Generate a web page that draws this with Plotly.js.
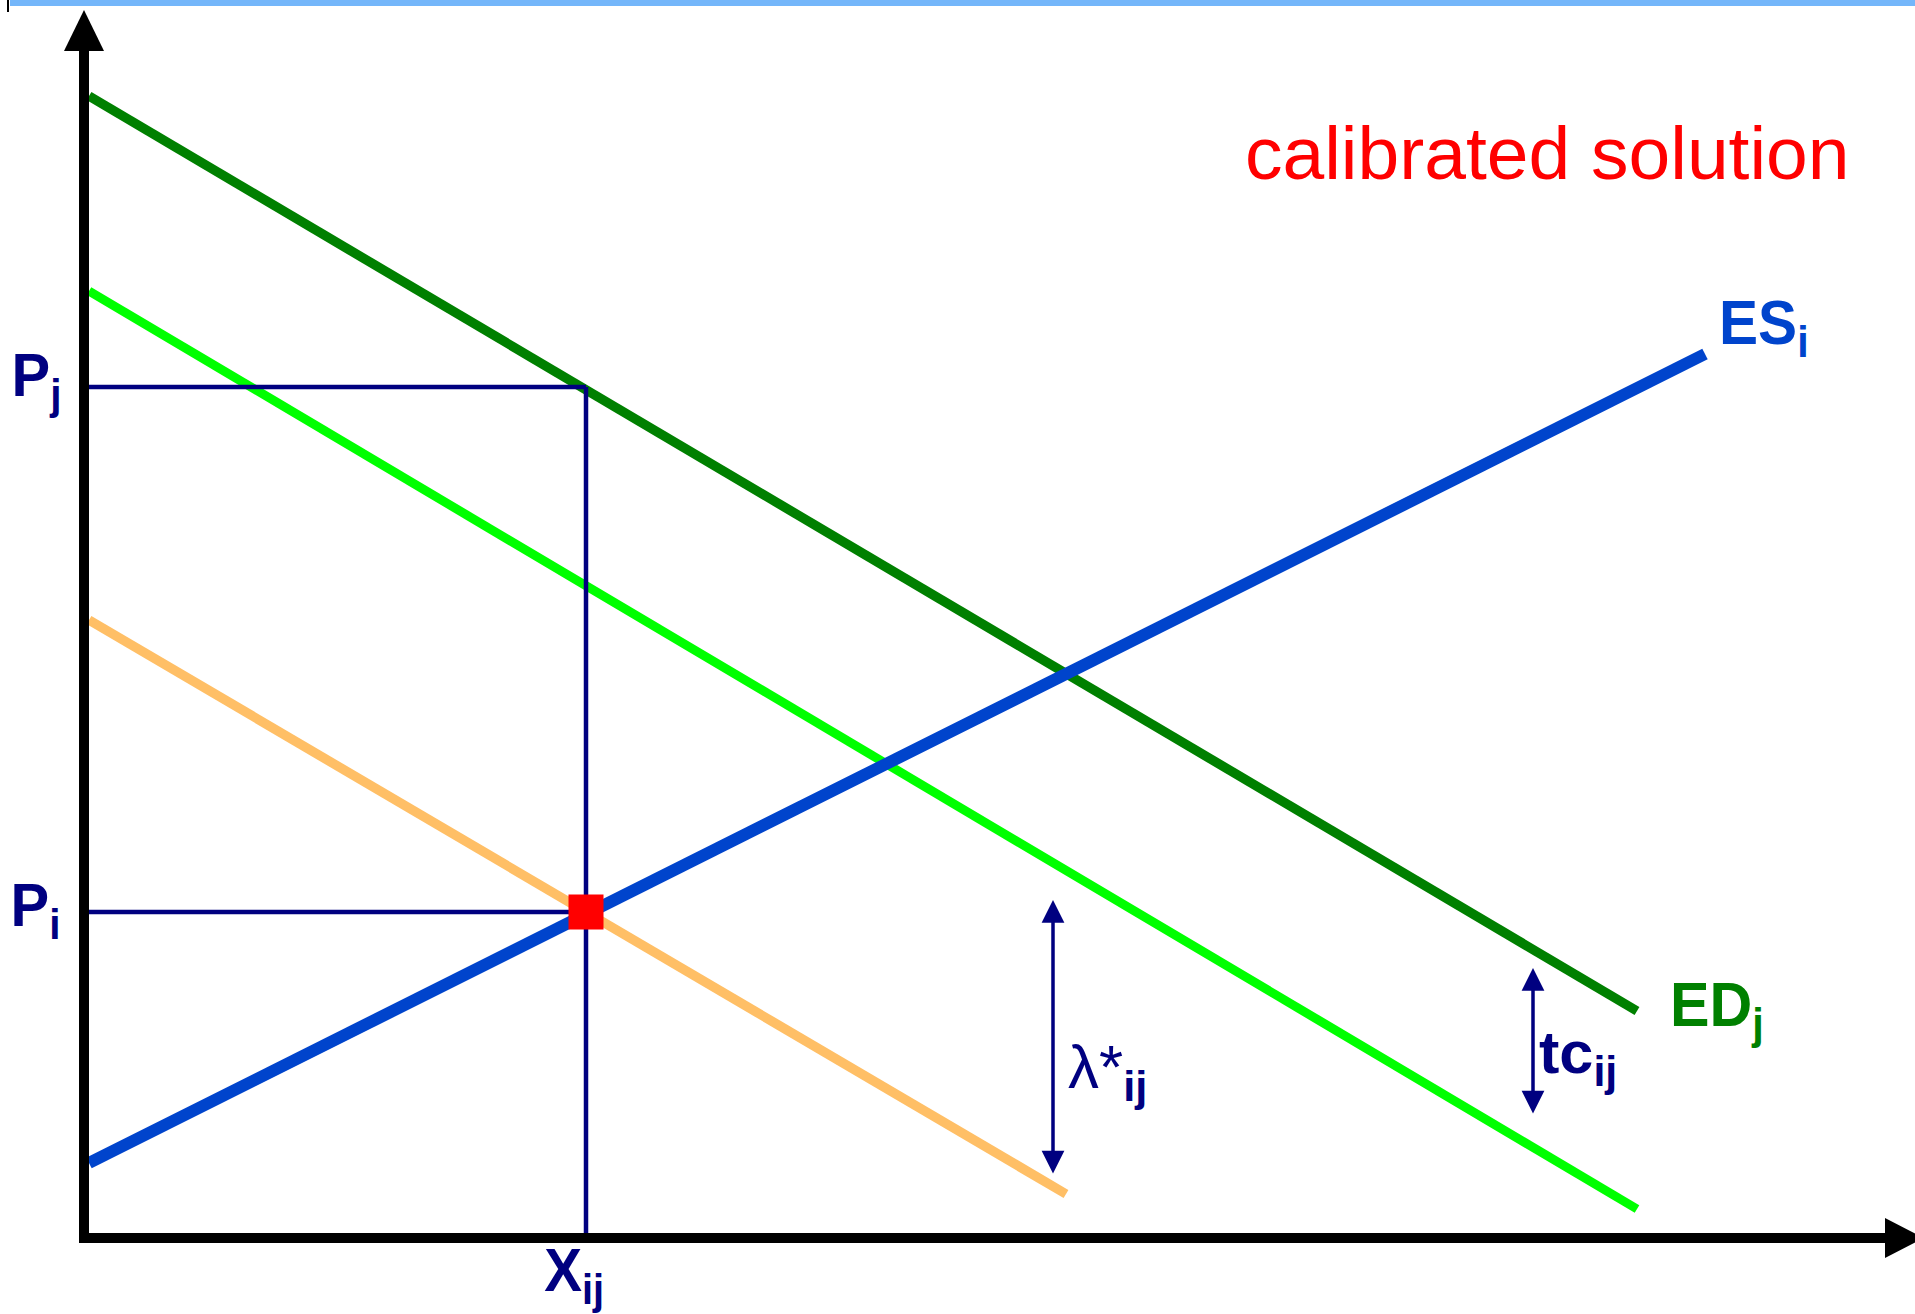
<!DOCTYPE html>
<html>
<head>
<meta charset="utf-8">
<script src="https://cdn.plot.ly/plotly-3.0.1.min.js"></script>
<style>
html,body{margin:0;padding:0;background:#ffffff;}
#chart{width:1915px;height:1314px;}
</style>
</head>
<body>
<div id="chart"></div>
<script>
// ---------------- data (quantity on x, price on y) ----------------
const edX      = [0, 15.48];   // excess demand of j  (ED_j)
const edY      = [11.37, 2.22];
const edTcX    = [0, 15.48];   // ED_j net of transport cost tc_ij
const edTcY    = [9.42, 0.24];
const edCalX   = [0, 9.77];    // ED_j net of tc_ij and lambda*_ij (calibrated)
const edCalY   = [6.13, 0.39];
const esX      = [0, 16.16];   // excess supply of i (ES_i)
const esY      = [0.70, 8.79];
const priceJ   = 8.46;         // P_j
const priceI   = 3.21;         // P_i
const flowIJ   = 4.97;         // X_ij
const lambdaAt = 9.64;         // position of the lambda*_ij gap marker
const lambdaSpan = [0.58, 3.33];
const tcAt     = 14.44;        // position of the tc_ij gap marker
const tcSpan   = [1.18, 2.65];

// ---------------- layout helpers ----------------
const W = 1915, H = 1314;
const M = {l: 89, r: 28, t: 50, b: 81, autoexpand: false};
const PW = W - M.l - M.r, PH = H - M.t - M.b;
const px = v => (v - M.l) / PW;          // page pixel -> paper x
const py = v => (H - M.b - v) / PH;      // page pixel -> paper y

const NAVY = '#000080';
const FONT = '"Liberation Sans", Arial, Helvetica, sans-serif';

const traces = [
  {x: edX, y: edY, mode: 'lines', line: {color: '#008000', width: 9.5}, hoverinfo: 'skip'},
  {x: edTcX, y: edTcY, mode: 'lines', line: {color: '#00FF00', width: 9}, hoverinfo: 'skip'},
  {x: edCalX, y: edCalY, mode: 'lines', line: {color: '#FFBF66', width: 9.5}, hoverinfo: 'skip'},
  {x: esX, y: esY, mode: 'lines', line: {color: '#0044CC', width: 12}, hoverinfo: 'skip'},
  {x: [0, flowIJ], y: [priceJ, priceJ], mode: 'lines', line: {color: NAVY, width: 4.5}, hoverinfo: 'skip'},
  {x: [0, flowIJ], y: [priceI, priceI], mode: 'lines', line: {color: NAVY, width: 4.5}, hoverinfo: 'skip'},
  {x: [flowIJ, flowIJ], y: [0, priceJ], mode: 'lines', line: {color: NAVY, width: 4.5}, hoverinfo: 'skip'},
  {x: [flowIJ], y: [priceI], mode: 'markers', marker: {symbol: 'square', size: 35, color: '#FF0000', line: {width: 0}}, hoverinfo: 'skip'}
];

// horizontal squeeze applied to each label (index -> factor), as in the original lettering
const squeeze = {};

const annotations = [
  // gap markers
  {xref: 'x', yref: 'y', axref: 'x', ayref: 'y', x: lambdaAt, y: lambdaSpan[1], ax: lambdaAt, ay: lambdaSpan[0],
   text: '', showarrow: true, arrowside: 'end+start', arrowhead: 2, startarrowhead: 2,
   arrowsize: 1.3, startarrowsize: 1.3, arrowwidth: 3.5, arrowcolor: NAVY},
  {xref: 'x', yref: 'y', axref: 'x', ayref: 'y', x: tcAt, y: tcSpan[1], ax: tcAt, ay: tcSpan[0],
   text: '', showarrow: true, arrowside: 'end+start', arrowhead: 2, startarrowhead: 2,
   arrowsize: 1.3, startarrowsize: 1.3, arrowwidth: 3.5, arrowcolor: NAVY}
];

function label(opts, sx) {
  annotations.push(Object.assign({xref: 'paper', yref: 'paper', showarrow: false}, opts));
  squeeze[annotations.length - 1] = {sx: sx, anchor: opts.xanchor};
}

label({x: px(64), y: py(379), xanchor: 'right', yanchor: 'middle',
  text: '<b>P<sub>j</sub></b>', font: {family: FONT, size: 61, color: NAVY}}, 0.95);
label({x: px(63), y: py(909), xanchor: 'right', yanchor: 'middle',
  text: '<b>P<sub>i</sub></b>', font: {family: FONT, size: 61, color: NAVY}}, 0.95);
label({x: px(574), y: py(1234), xanchor: 'center', yanchor: 'top',
  text: '<b>X<sub>ij</sub></b>', font: {family: FONT, size: 61, color: NAVY}}, 0.93);
label({x: px(1717), y: py(326), xanchor: 'left', yanchor: 'middle',
  text: '<b>ES<sub>i</sub></b>', font: {family: FONT, size: 63, color: '#0044CC'}}, 0.93);
label({x: px(1668), y: py(1008), xanchor: 'left', yanchor: 'middle',
  text: '<b>ED<sub>j</sub></b>', font: {family: FONT, size: 63, color: '#008000'}}, 0.94);
label({x: px(1066), y: py(1071), xanchor: 'left', yanchor: 'middle',
  text: 'λ*<sub><b>ij</b></sub>', font: {family: FONT, size: 62, color: NAVY}}, 1.0);
label({x: px(1537), y: py(1057), xanchor: 'left', yanchor: 'middle',
  text: '<b>tc<sub>ij</sub></b>', font: {family: FONT, size: 60, color: NAVY}}, 1.02);
label({x: px(1243), y: py(109), xanchor: 'left', yanchor: 'top',
  text: 'calibrated solution', font: {family: FONT, size: 75, color: '#FF0000'}}, 1.0);

// triangle path in paper coordinates from page-pixel corners
const tri = pts => 'M ' + pts.map(p => px(p[0]) + ',' + py(p[1])).join(' L ') + ' Z';

const shapes = [
  {type: 'rect', xref: 'paper', yref: 'paper', x0: px(10), x1: px(1915), y0: py(6), y1: py(0),
   fillcolor: '#74B6FA', line: {width: 0}, layer: 'above'},
  {type: 'line', xref: 'paper', yref: 'paper', x0: px(8), x1: px(8), y0: py(12), y1: py(0),
   line: {color: '#000000', width: 2}, layer: 'above'},
  // axis arrow heads
  {type: 'path', xref: 'paper', yref: 'paper', path: tri([[84, 10], [104, 51], [64, 51]]),
   fillcolor: '#000000', line: {width: 0}, layer: 'above'},
  {type: 'path', xref: 'paper', yref: 'paper', path: tri([[1924, 1238], [1885, 1218], [1885, 1258]]),
   fillcolor: '#000000', line: {width: 0}, layer: 'above'}
];

const axisBase = {showline: true, linewidth: 10, linecolor: '#000000', showgrid: false, zeroline: false,
  showticklabels: false, ticks: '', fixedrange: true};

const layout = {
  width: W, height: H,
  margin: M,
  paper_bgcolor: '#ffffff', plot_bgcolor: '#ffffff',
  showlegend: false,
  xaxis: Object.assign({range: [0, PW / 100]}, axisBase),
  yaxis: Object.assign({range: [0, PH / 100]}, axisBase),
  annotations: annotations,
  shapes: shapes
};

Plotly.newPlot('chart', traces, layout, {displayModeBar: false, staticPlot: true}).then(function (gd) {
  gd.querySelectorAll('g.annotation').forEach(function (g) {
    const idx = +g.getAttribute('data-index');
    const s = squeeze[idx];
    if (!s || s.sx === 1) return;
    const t = g.querySelector('text.annotation-text');
    if (!t) return;
    const bb = t.getBBox();
    let cx = bb.x + bb.width / 2;
    if (s.anchor === 'left') cx = bb.x;
    else if (s.anchor === 'right') cx = bb.x + bb.width;
    t.setAttribute('transform', 'translate(' + cx + ',0) scale(' + s.sx + ',1) translate(' + (-cx) + ',0)');
  });
});
</script>
</body>
</html>
